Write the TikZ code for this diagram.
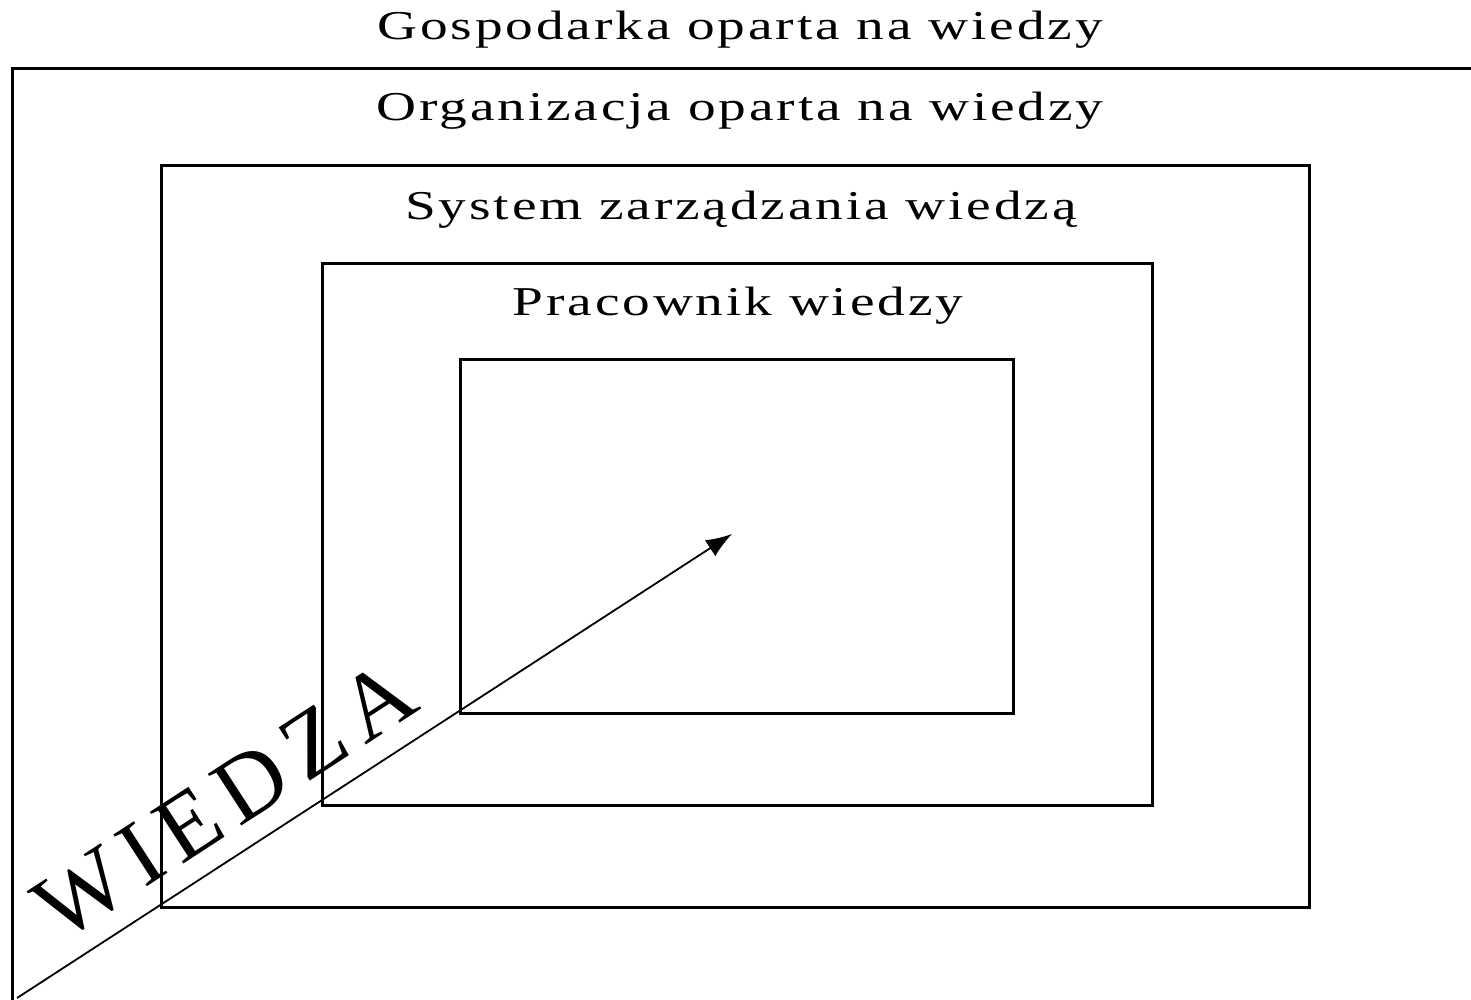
\documentclass[tikz,border=0pt]{standalone}
\usepackage{fontspec}
\setmainfont{Liberation Serif}
\newfontfamily\titlefont[FakeStretch=1.35,LetterSpace=7]{Liberation Serif}
\newfontfamily\bigfont[LetterSpace=13]{Liberation Serif}
\usetikzlibrary{arrows.meta}
\begin{document}
\begin{tikzpicture}[x=1pt,y=-1pt,
  box/.style={draw=black,line width=3pt},
  title/.style={anchor=base,inner sep=0pt,font=\titlefont\fontsize{41}{41}\selectfont},
  flow/.style={draw=black,line width=1.8pt,-{Latex[length=26pt,width=19pt]}}]
\useasboundingbox (0,0) rectangle (1471,1000);
\clip (0,0) rectangle (1471,1000);
\fill[white] (0,0) rectangle (1471,1000);
% boxes
\draw[box] (12,69) rectangle (1500,1030);
\draw[box] (161,166) rectangle (1309,907);
\draw[box] (322,263) rectangle (1152,805);
\draw[box] (460,359) rectangle (1013,713);
% titles
\node[title] (t1) at (740,40) {Gospodarka oparta na wiedzy};
\node[title] (t2) at (740,121) {Organizacja oparta na wiedzy};
\node[title] (t3) at (741,220) {System zarządzania wiedzą};
\node[title] (t4) at (738,315) {Pracownik wiedzy};
% arrow
\coordinate (start) at (17,998);
\coordinate (tip) at (732,534);
\draw[flow] (start) -- (tip);
% label
\node[anchor=base west,inner sep=0pt,rotate=33,font=\bigfont\fontsize{94}{94}\selectfont] (w) at (60,944) {WIEDZA};
\end{tikzpicture}
\end{document}
